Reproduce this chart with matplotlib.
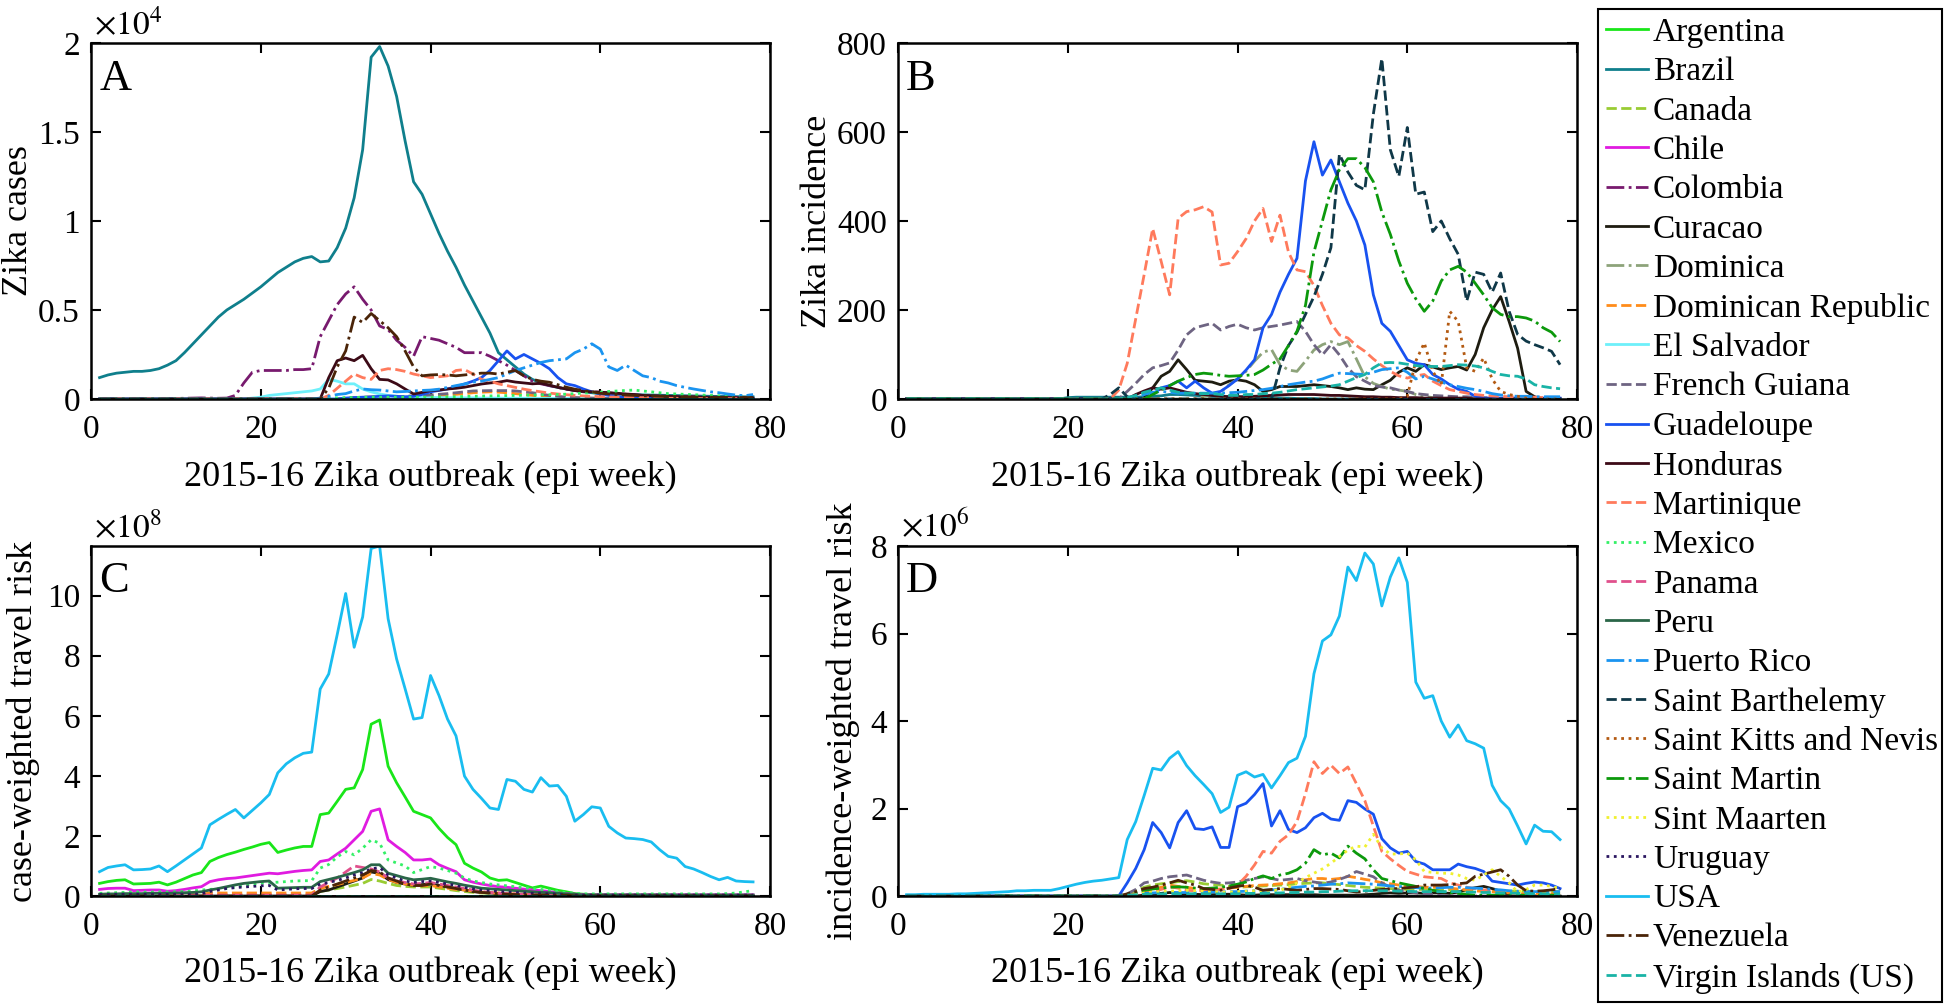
import numpy as np
import matplotlib
matplotlib.use("Agg")
import matplotlib.pyplot as plt
from matplotlib.ticker import StrMethodFormatter

plt.rcParams['font.family'] = ['Liberation Serif', 'DejaVu Serif']
plt.rcParams['mathtext.fontset'] = 'stix'

N_WEEKS = 78
WEEKS = np.arange(1, N_WEEKS + 1)

COUNTRIES = ['Argentina', 'Brazil', 'Canada', 'Chile', 'Colombia', 'Curacao', 'Dominica',
             'Dominican Republic', 'El Salvador', 'French Guiana', 'Guadeloupe', 'Honduras',
             'Martinique', 'Mexico', 'Panama', 'Peru', 'Puerto Rico', 'Saint Barthelemy',
             'Saint Kitts and Nevis', 'Saint Martin', 'Sint Maarten', 'Uruguay', 'USA',
             'Venezuela', 'Virgin Islands (US)']
COLORS = ['#19e619', '#0f7f8c', '#99cc33', '#e01be0', '#781a6e', '#1e1c10', '#8da37a',
          '#ff8c1a', '#6ef0fa', '#6e6482', '#1852f0', '#3c0a16', '#ff7a5c', '#33f066',
          '#e0508c', '#2a6648', '#1a94f0', '#0f3848', '#b35a12', '#0c990c', '#f0f030',
          '#2a1660', '#19bdf0', '#4a2408', '#19b3a6']
STYLES = ['-', '-', '--', '-', '-.', '-', '-.', '--', '-', '--', '-', '-', '--', ':', '--',
          '-', '-.', '--', ':', '-.', ':', ':', '-', '-.', '--']

# each series: (first epi week, weekly values); weeks outside are 0
# --- A: Zika cases ---
A_BRAZIL = (1, [1200, 1350, 1450, 1500, 1550, 1550, 1600, 1700, 1900, 2150,
                2600, 3100, 3600, 4100, 4600, 5000, 5300, 5600, 5950, 6300,
                6700, 7100, 7400, 7700, 7900, 8000, 7700, 7750, 8500, 9600,
                11300, 14000, 19200, 19800, 18700, 17000, 14500, 12200, 11500, 10400,
                9300, 8300, 7400, 6400, 5500, 4600, 3700, 2600, 2200, 1800,
                1400, 1100, 900, 750, 650, 560, 480, 400, 350, 300,
                280, 260, 250, 240, 230, 220, 210, 200, 190, 180,
                170, 160, 150, 140, 140, 130, 120, 120])
A_COLOMBIA = (1, [0, 0, 0, 0, 0, 0, 0, 0, 20, 30,
                  40, 50, 60, 50, 40, 50, 200, 900, 1500, 1600,
                  1600, 1600, 1600, 1650, 1650, 1700, 3500, 4400, 5300, 5900,
                  6300, 5600, 5000, 4100, 3900, 3300, 2900, 2400, 3500, 3400,
                  3300, 3100, 2900, 2600, 2600, 2600, 2400, 2150, 1900, 1600,
                  1300, 1000, 850, 750, 650, 550, 480, 430, 400, 380,
                  340, 300, 260, 230, 200, 180, 160, 150, 140, 130,
                  120, 110, 100, 100, 90, 90, 80, 80])
A_HONDURAS = (28, [1200, 2150, 2300, 2150, 2450, 1700, 1100, 1070, 850, 560,
                   280, 370, 470, 500, 560, 600, 660, 750, 840, 900,
                   940, 1030, 950, 900, 850, 880, 780, 650, 560, 470,
                   420, 400, 380, 350, 320, 280, 250, 200, 180, 160,
                   150, 130, 110, 100, 90, 80, 80, 70, 60, 60, 50])
A_VENEZUELA = (28, [600, 1800, 2700, 4600, 4300, 4800, 4400, 4000, 3500, 2700,
                    1800, 1300, 1350, 1370, 1350, 1300, 1350, 1400, 1450, 1450,
                    1400, 1500, 1600, 1300, 1100, 1000, 940, 800, 660, 550,
                    470, 400, 320, 280, 250, 220, 200, 180, 160, 150,
                    140, 130, 120, 110, 100, 100, 90, 90, 80, 80, 80])
A_MARTINIQUE = (28, [200, 600, 1000, 1400, 1200, 1100, 1600, 1700, 1650, 1550,
                     1400, 1300, 1200, 1250, 1300, 1600, 1650, 1400, 1100, 1000,
                     850, 750, 650, 550, 470, 400, 330, 280, 240, 200,
                     170, 150, 130, 110, 100, 90, 80, 70, 60, 50,
                     40, 40, 30, 30, 20, 20, 20, 20, 20, 20, 20])
A_GUADELOUPE = (30, [50, 80, 100, 120, 150, 170, 150, 120, 150, 250,
                     400, 480, 560, 700, 840, 1000, 1200, 1600, 2150, 2700,
                     2250, 2500, 2250, 2000, 1700, 1200, 850, 750, 560, 400,
                     280, 200, 120, 90, 70, 50, 40, 30, 20, 20,
                     10, 10, 10, 10, 10, 10, 10, 10, 10])
A_PUERTO_RICO = (27, [50, 150, 250, 300, 450, 560, 520, 500, 450, 400,
                      420, 450, 480, 500, 550, 650, 750, 840, 950, 1000,
                      1100, 1200, 1400, 1600, 1750, 1900, 2050, 2150, 2200, 2250,
                      2600, 2800, 3100, 2800, 1800, 1600, 1900, 1600, 1300, 1200,
                      1000, 900, 750, 650, 560, 480, 400, 350, 280, 220, 180, 250])
A_EL_SALVADOR = (19, [50, 100, 200, 250, 300, 350, 400, 450, 560, 1100,
                      1000, 850, 850, 560, 400, 280, 200, 150, 120, 100,
                      90, 80, 80, 70, 70, 60, 60, 50, 50, 50,
                      40, 40, 40, 40, 30, 30, 30, 30, 30, 30,
                      20, 20, 20, 20, 20, 20, 20, 20, 20, 20,
                      20, 20, 20, 20, 20, 20, 20, 20, 20, 20])
A_FRENCH_GUIANA = (30, [50, 60, 70, 80, 90, 100, 120, 150, 180, 200,
                        230, 260, 300, 350, 400, 450, 460, 470, 470, 470,
                        450, 400, 350, 280, 200, 150, 100, 80, 60, 50,
                        40, 30, 30, 20, 20, 20, 10, 10, 10, 10])
A_MEXICO = (28, [50, 60, 70, 80, 90, 100, 100, 100, 100, 100,
                 100, 100, 100, 110, 120, 130, 140, 150, 160, 170,
                 180, 190, 200, 210, 220, 230, 240, 250, 270, 300,
                 330, 350, 380, 420, 450, 480, 500, 450, 400, 350,
                 300, 280, 260, 240, 220, 200, 180, 170, 160, 150, 150])
A_DOMINICAN_REP = (30, [50, 80, 100, 120, 150, 150, 140, 130, 120, 130,
                        150, 180, 220, 260, 300, 350, 380, 400, 380, 350,
                        300, 250, 200, 160, 130, 100, 80, 60, 50, 40,
                        30, 30, 30, 20, 20, 20, 20, 20])

# --- B: Zika incidence ---
B_ST_BARTH = (25, [10, 25, 5, 0, 0, 0, 0, 0, 0, 0,
                   0, 0, 0, 0, 0, 0, 0, 0, 0, 0,
                   70, 120, 150, 190, 230, 280, 340, 550, 510, 480,
                   470, 640, 765, 560, 500, 610, 460, 465, 376, 400,
                   360, 325, 220, 285, 280, 240, 283, 197, 145, 130,
                   122, 115, 107, 77])
B_GUADELOUPE = (30, [10, 25, 30, 40, 25, 40, 25, 13, 17, 30,
                     45, 65, 88, 160, 190, 240, 280, 316, 490, 578,
                     503, 537, 488, 440, 400, 346, 234, 170, 152, 120,
                     88, 80, 77, 55, 45, 32, 22, 17, 6, 2,
                     2, 2, 2, 2, 2, 2, 2, 2, 2])
B_ST_MARTIN = (30, [10, 20, 30, 40, 48, 55, 58, 56, 53, 51,
                    52, 53, 55, 65, 78, 90, 120, 152, 210, 330,
                    400, 470, 515, 540, 540, 520, 488, 420, 370, 310,
                    260, 225, 197, 220, 265, 290, 298, 285, 260, 234,
                    205, 190, 185, 185, 182, 175, 160, 150, 129])
B_MARTINIQUE = (26, [20, 80, 180, 280, 383, 309, 234, 406, 421, 425,
                     432, 420, 301, 305, 331, 360, 400, 428, 354, 413,
                     330, 290, 286, 255, 210, 170, 144, 137, 120, 107,
                     90, 75, 62, 52, 47, 52, 55, 40, 30, 21,
                     17, 13, 10, 8, 7, 6, 5, 5, 4, 4, 3, 3, 3])
B_FRENCH_GUIANA = (27, [17, 35, 55, 70, 75, 81, 110, 144, 160, 165,
                        170, 155, 163, 168, 160, 155, 160, 163, 166, 170,
                        174, 152, 122, 99, 122, 99, 70, 50, 40, 30,
                        27, 25, 20, 17, 12, 10, 8, 7, 6, 5,
                        5, 4, 3, 2])
B_DOMINICA = (36, [5, 10, 15, 32, 45, 62, 85, 105, 111, 77,
                   65, 62, 85, 110, 122, 129, 122, 129, 90, 50,
                   35, 28, 22, 20, 17, 10, 6, 3])
B_CURACAO = (29, [2, 25, 51, 62, 88, 66, 42, 40, 38, 32,
                  40, 43, 40, 32, 17, 21, 28, 28, 28, 30,
                  32, 30, 28, 25, 21, 25, 22, 21, 32, 42,
                  60, 70, 62, 77, 72, 66, 70, 73, 65, 100,
                  160, 200, 230, 174, 114, 17, 5])
B_ST_KITTS = (60, [6, 85, 126, 62, 32, 197, 174, 70, 62, 92,
                   45, 17, 10, 6, 2])
B_VIRGIN = (27, [3, 8, 15, 20, 25, 20, 15, 13, 13, 12,
                 12, 10, 8, 8, 10, 10, 12, 13, 15, 18,
                 21, 23, 25, 27, 29, 32, 40, 48, 55, 70,
                 81, 82, 81, 78, 75, 73, 73, 73, 75, 77,
                 76, 74, 70, 62, 55, 52, 51, 45, 32, 28, 25, 23])
B_PUERTO_RICO = (28, [5, 10, 15, 17, 15, 13, 13, 13, 13, 13,
                      13, 14, 15, 17, 19, 21, 24, 28, 32, 35,
                      38, 40, 45, 52, 58, 57, 56, 55, 60, 66,
                      68, 70, 60, 45, 51, 45, 38, 32, 28, 24,
                      21, 17, 12, 9, 7, 6, 6, 5, 5, 5, 5])
B_HONDURAS = (28, [10, 18, 25, 22, 25, 20, 15, 12, 10, 8,
                   6, 5, 5, 5, 6, 7, 8, 9, 10, 10,
                   10, 10, 9, 8, 8, 7, 6, 5, 5, 4,
                   4, 3, 3, 3, 2, 2, 2, 2, 2, 2])
B_BRAZIL = (20, [3, 4, 4, 4, 4, 4, 4, 4, 4, 5,
                 6, 7, 10, 10, 9, 8, 7, 6, 6, 5,
                 5, 4, 4, 3, 3, 2, 2, 1, 1, 1])

# --- C: case-weighted travel risk (x1e8) ---
C_USA = (1, [0.81, 0.95, 1.00, 1.04, 0.87, 0.88, 0.90, 1.00, 0.81, 1.00,
             1.20, 1.40, 1.60, 2.37, 2.55, 2.72, 2.88, 2.60, 2.85, 3.10,
             3.38, 4.10, 4.40, 4.60, 4.75, 4.79, 6.89, 7.39, 8.70, 10.07,
             8.28, 9.29, 11.57, 11.65, 9.23, 7.89, 6.90, 5.89, 5.94, 7.34,
             6.67, 5.89, 5.33, 3.99, 3.55, 3.25, 2.93, 2.88, 3.88, 3.82,
             3.55, 3.46, 3.94, 3.66, 3.68, 3.32, 2.49, 2.71, 2.97, 2.93,
             2.32, 2.10, 1.93, 1.91, 1.88, 1.80, 1.54, 1.32, 1.26, 0.98,
             0.90, 0.78, 0.65, 0.54, 0.62, 0.50, 0.48, 0.47])
C_ARGENTINA = (1, [0.42, 0.48, 0.52, 0.54, 0.40, 0.41, 0.42, 0.46, 0.37, 0.46,
                   0.58, 0.70, 0.78, 1.15, 1.28, 1.38, 1.46, 1.55, 1.63, 1.72,
                   1.78, 1.45, 1.53, 1.60, 1.65, 1.65, 2.71, 2.76, 3.15, 3.55,
                   3.60, 4.21, 5.72, 5.86, 4.32, 3.77, 3.30, 2.82, 2.71, 2.60,
                   2.25, 1.95, 1.71, 1.09, 0.93, 0.80, 0.60, 0.52, 0.54, 0.45,
                   0.36, 0.27, 0.33, 0.26, 0.19, 0.14, 0.08, 0.06, 0.05, 0.05,
                   0.04, 0.04, 0.04, 0.04, 0.04, 0.04, 0.04, 0.04, 0.03, 0.03,
                   0.03, 0.03, 0.03, 0.03, 0.03, 0.03, 0.03, 0.03])
C_CHILE = (1, [0.22, 0.25, 0.26, 0.26, 0.18, 0.19, 0.20, 0.20, 0.16, 0.18,
               0.22, 0.27, 0.31, 0.48, 0.54, 0.58, 0.60, 0.64, 0.68, 0.72,
               0.76, 0.74, 0.78, 0.82, 0.85, 0.87, 1.15, 1.20, 1.40, 1.59,
               1.87, 2.15, 2.82, 2.90, 1.87, 1.65, 1.45, 1.20, 1.20, 1.23,
               1.04, 0.92, 0.81, 0.54, 0.46, 0.40, 0.35, 0.31, 0.29, 0.26,
               0.23, 0.20, 0.18, 0.15, 0.10, 0.08, 0.06, 0.04, 0.04, 0.04,
               0.04, 0.04, 0.04, 0.04, 0.04, 0.04, 0.04, 0.04, 0.04, 0.04,
               0.04, 0.04, 0.04, 0.04, 0.04, 0.04, 0.04, 0.04])
C_MEXICO = (1, [0.09, 0.10, 0.11, 0.12, 0.14, 0.13, 0.13, 0.14, 0.13, 0.14,
                0.15, 0.17, 0.20, 0.22, 0.24, 0.26, 0.30, 0.35, 0.40, 0.43,
                0.45, 0.46, 0.48, 0.50, 0.51, 0.51, 0.93, 1.05, 1.30, 1.48,
                1.37, 1.59, 1.87, 1.76, 1.20, 1.10, 1.00, 0.78, 0.88, 0.98,
                0.93, 0.85, 0.76, 0.60, 0.50, 0.45, 0.40, 0.37, 0.34, 0.31,
                0.28, 0.25, 0.22, 0.19, 0.15, 0.12, 0.09, 0.07, 0.07, 0.07,
                0.07, 0.07, 0.07, 0.07, 0.07, 0.07, 0.07, 0.07, 0.07, 0.07,
                0.07, 0.07, 0.07, 0.07, 0.08, 0.10, 0.14, 0.18])
C_PERU = (1, [0.06, 0.07, 0.07, 0.08, 0.08, 0.08, 0.09, 0.09, 0.09, 0.10,
              0.11, 0.12, 0.14, 0.20, 0.25, 0.31, 0.37, 0.42, 0.45, 0.48,
              0.50, 0.26, 0.27, 0.28, 0.29, 0.29, 0.48, 0.55, 0.62, 0.70,
              0.78, 0.87, 1.04, 1.04, 0.76, 0.68, 0.60, 0.54, 0.56, 0.59,
              0.53, 0.47, 0.42, 0.36, 0.31, 0.26, 0.24, 0.22, 0.20, 0.18,
              0.16, 0.14, 0.12, 0.11, 0.09, 0.07, 0.06, 0.03, 0.03, 0.03,
              0.03, 0.03, 0.03, 0.03, 0.03, 0.03, 0.03, 0.03, 0.03, 0.03,
              0.03, 0.03, 0.03, 0.03, 0.03, 0.03, 0.03, 0.03])
C_URUGUAY = (1, [0.05, 0.05, 0.05, 0.05, 0.05, 0.05, 0.05, 0.05, 0.05, 0.05,
                 0.05, 0.05, 0.08, 0.15, 0.20, 0.25, 0.28, 0.30, 0.32, 0.34,
                 0.35, 0.20, 0.22, 0.24, 0.25, 0.25, 0.40, 0.45, 0.52, 0.60,
                 0.70, 0.78, 0.90, 0.95, 0.70, 0.60, 0.50, 0.45, 0.48, 0.50,
                 0.45, 0.40, 0.35, 0.28, 0.24, 0.20, 0.17, 0.15, 0.13, 0.12,
                 0.10, 0.09, 0.08, 0.07, 0.06, 0.03, 0.03, 0.03, 0.03, 0.03,
                 0.03, 0.03, 0.03, 0.03, 0.03, 0.03, 0.03, 0.03, 0.03, 0.03,
                 0.03, 0.03, 0.03, 0.03, 0.03, 0.03, 0.03, 0.03])
C_VENEZUELA = (27, [0.20, 0.30, 0.40, 0.50, 0.60, 0.70, 0.85, 0.80, 0.60, 0.50,
                    0.40, 0.35, 0.35, 0.40, 0.35, 0.30, 0.25, 0.20, 0.15, 0.12,
                    0.10, 0.08, 0.06, 0.05, 0.04, 0.03, 0.03, 0.03, 0.03, 0.03])
C_DOMINICAN_REP = (1, [0.05, 0.05, 0.05, 0.05, 0.05, 0.05, 0.05, 0.05, 0.05, 0.05,
                       0.05, 0.05, 0.05, 0.10, 0.10, 0.10, 0.10, 0.10, 0.10, 0.10,
                       0.10, 0.10, 0.10, 0.10, 0.10, 0.10, 0.25, 0.32, 0.38, 0.45,
                       0.52, 0.60, 0.75, 0.70, 0.55, 0.45, 0.40, 0.36, 0.34, 0.35,
                       0.30, 0.26, 0.22, 0.20, 0.16, 0.13, 0.11, 0.10, 0.08, 0.07,
                       0.06, 0.05, 0.05, 0.04, 0.03, 0.03])
C_CANADA = (1, [0.03, 0.03, 0.03, 0.03, 0.03, 0.03, 0.03, 0.03, 0.03, 0.03,
                0.03, 0.03, 0.03, 0.03, 0.03, 0.03, 0.03, 0.03, 0.03, 0.03,
                0.03, 0.03, 0.03, 0.03, 0.03, 0.03, 0.15, 0.20, 0.25, 0.30,
                0.36, 0.42, 0.55, 0.50, 0.42, 0.35, 0.32, 0.30, 0.30, 0.30,
                0.26, 0.22, 0.18, 0.15, 0.12, 0.10, 0.09, 0.08, 0.06, 0.05,
                0.04, 0.03, 0.03, 0.02, 0.02, 0.02])
C_PANAMA = (1, [0.03, 0.03, 0.03, 0.03, 0.03, 0.03, 0.03, 0.03, 0.03, 0.03,
                0.03, 0.03, 0.03, 0.03, 0.03, 0.03, 0.03, 0.03, 0.03, 0.03,
                0.03, 0.03, 0.03, 0.03, 0.03, 0.03, 0.30, 0.45, 0.60, 0.80,
                1.00, 0.95, 0.90, 0.80, 0.60, 0.50, 0.45, 0.40, 0.42, 0.45,
                0.40, 0.35, 0.30, 0.25, 0.20, 0.15, 0.12, 0.10, 0.08, 0.07,
                0.06, 0.05, 0.04, 0.04, 0.03, 0.03])
C_CURACAO = (27, [0.15, 0.20, 0.30, 0.40, 0.50, 0.60, 0.80, 0.75, 0.55, 0.45,
                  0.40, 0.35, 0.38, 0.40, 0.35, 0.30, 0.25, 0.20, 0.15, 0.12,
                  0.10, 0.08, 0.06, 0.05, 0.04, 0.03])

# --- D: incidence-weighted travel risk (x1e6) ---
D_USA = (1, [0.03, 0.03, 0.04, 0.04, 0.04, 0.04, 0.05, 0.05, 0.06, 0.07,
             0.08, 0.09, 0.10, 0.12, 0.12, 0.13, 0.13, 0.13, 0.17, 0.22,
             0.27, 0.31, 0.34, 0.36, 0.39, 0.42, 1.29, 1.70, 2.30, 2.92,
             2.88, 3.15, 3.30, 2.98, 2.75, 2.55, 2.34, 1.91, 2.03, 2.76,
             2.84, 2.72, 2.78, 2.47, 2.75, 3.05, 3.15, 3.65, 5.08, 5.83,
             5.97, 6.40, 7.52, 7.21, 7.84, 7.59, 6.63, 7.29, 7.73, 7.17,
             4.89, 4.52, 4.58, 4.00, 3.63, 3.91, 3.55, 3.48, 3.38, 2.53,
             2.18, 1.99, 1.60, 1.19, 1.62, 1.48, 1.47, 1.29])
D_GUADELOUPE = (27, [0.30, 0.63, 1.06, 1.68, 1.45, 1.10, 1.68, 1.95, 1.54, 1.52,
                     1.58, 1.11, 1.11, 2.04, 2.12, 2.32, 2.57, 1.60, 1.95, 1.52,
                     1.45, 1.56, 1.79, 1.89, 1.76, 1.73, 2.18, 2.14, 1.99, 1.87,
                     1.31, 1.10, 0.98, 1.02, 0.79, 0.73, 0.60, 0.60, 0.60, 0.73,
                     0.67, 0.63, 0.56, 0.34, 0.31, 0.28, 0.25, 0.29, 0.32, 0.30, 0.25, 0.17])
D_MARTINIQUE = (29, [0.05, 0.10, 0.15, 0.21, 0.18, 0.13, 0.12, 0.12, 0.13, 0.15,
                     0.17, 0.25, 0.45, 0.71, 1.02, 0.98, 1.25, 1.40, 1.70, 2.34,
                     3.07, 2.80, 2.99, 2.80, 2.95, 2.57, 2.18, 1.60, 1.02, 0.85,
                     0.70, 0.56, 0.50, 0.44, 0.42, 0.40, 0.30, 0.25, 0.20, 0.17,
                     0.14, 0.11, 0.09, 0.07, 0.05, 0.03, 0.03, 0.03, 0.03, 0.03])
D_ST_MARTIN = (27, [0.03, 0.08, 0.13, 0.16, 0.18, 0.20, 0.21, 0.20, 0.18, 0.17,
                    0.18, 0.20, 0.23, 0.27, 0.32, 0.40, 0.46, 0.40, 0.48, 0.52,
                    0.60, 0.75, 1.06, 0.94, 0.98, 0.87, 1.14, 0.98, 0.85, 0.60,
                    0.40, 0.35, 0.30, 0.26, 0.22, 0.17, 0.13, 0.10, 0.08, 0.06,
                    0.04, 0.02, 0.02, 0.02, 0.02, 0.02, 0.02, 0.02, 0.02, 0.02, 0.02, 0.02])
D_SINT_MAARTEN = (28, [0.04, 0.07, 0.09, 0.10, 0.11, 0.12, 0.13, 0.12, 0.11, 0.10,
                       0.09, 0.09, 0.10, 0.11, 0.12, 0.12, 0.13, 0.13, 0.20, 0.30,
                       0.42, 0.52, 0.62, 0.75, 0.90, 1.05, 1.14, 1.12, 1.41, 1.10,
                       0.96, 0.96, 0.98, 0.83, 0.56, 0.54, 0.52, 0.52, 0.48, 0.40,
                       0.36, 0.48, 0.60, 0.45, 0.30, 0.09, 0.15, 0.25, 0.25, 0.22, 0.17])
D_VENEZUELA = (27, [0.05, 0.10, 0.17, 0.20, 0.25, 0.30, 0.36, 0.30, 0.25, 0.17,
                    0.15, 0.13, 0.18, 0.22, 0.25, 0.20, 0.13, 0.15, 0.17, 0.15,
                    0.13, 0.15, 0.17, 0.17, 0.16, 0.15, 0.12, 0.09, 0.11, 0.13,
                    0.15, 0.16, 0.17, 0.19, 0.21, 0.25, 0.25, 0.25, 0.26, 0.28,
                    0.30, 0.45, 0.50, 0.55, 0.60, 0.45, 0.25, 0.12, 0.11, 0.12, 0.14, 0.17])
D_FRENCH_GUIANA = (27, [0.05, 0.15, 0.30, 0.34, 0.40, 0.44, 0.46, 0.48, 0.42, 0.36,
                        0.32, 0.29, 0.30, 0.32, 0.36, 0.40, 0.44, 0.40, 0.36, 0.38,
                        0.40, 0.35, 0.32, 0.29, 0.32, 0.38, 0.45, 0.56, 0.50, 0.44,
                        0.30, 0.20, 0.13, 0.10, 0.07, 0.05, 0.03, 0.01])
D_DOMINICAN_REP = (27, [0.02, 0.05, 0.10, 0.15, 0.20, 0.25, 0.22, 0.20, 0.17, 0.15,
                        0.15, 0.16, 0.18, 0.20, 0.22, 0.24, 0.25, 0.26, 0.28, 0.30,
                        0.33, 0.37, 0.40, 0.40, 0.38, 0.40, 0.45, 0.42, 0.38, 0.35,
                        0.30, 0.28, 0.25, 0.23, 0.22, 0.20, 0.20, 0.20, 0.18, 0.16,
                        0.14, 0.12, 0.10, 0.10, 0.08, 0.07, 0.06, 0.05, 0.05, 0.05, 0.05, 0.05])
D_CANADA = (27, [0.05, 0.12, 0.20, 0.25, 0.28, 0.30, 0.33, 0.35, 0.32, 0.28,
                 0.26, 0.25, 0.22, 0.20, 0.21, 0.22, 0.23, 0.24, 0.25, 0.26,
                 0.28, 0.29, 0.30, 0.30, 0.28, 0.26, 0.24, 0.22, 0.20, 0.19,
                 0.18, 0.17, 0.16, 0.15, 0.15, 0.15, 0.14, 0.14, 0.14, 0.13,
                 0.13, 0.13, 0.12, 0.12, 0.12, 0.11, 0.11, 0.11, 0.10, 0.10, 0.10, 0.10])
D_PUERTO_RICO = (27, [0.02, 0.05, 0.06, 0.07, 0.08, 0.08, 0.08, 0.08, 0.08, 0.08,
                      0.09, 0.09, 0.10, 0.10, 0.11, 0.12, 0.13, 0.14, 0.15, 0.18,
                      0.20, 0.22, 0.23, 0.25, 0.27, 0.28, 0.30, 0.29, 0.28, 0.27,
                      0.25, 0.23, 0.22, 0.20, 0.19, 0.18, 0.18, 0.19, 0.20, 0.20,
                      0.19, 0.18, 0.17, 0.15, 0.14, 0.12, 0.11, 0.10, 0.10, 0.10, 0.10, 0.10])
D_VIRGIN = (27, [0.02, 0.03, 0.04, 0.05, 0.05, 0.05, 0.05, 0.05, 0.05, 0.05,
                 0.05, 0.05, 0.05, 0.05, 0.06, 0.06, 0.06, 0.07, 0.07, 0.08,
                 0.08, 0.09, 0.09, 0.10, 0.10, 0.11, 0.12, 0.12, 0.12, 0.12,
                 0.12, 0.12, 0.11, 0.11, 0.10, 0.10, 0.10, 0.10, 0.10, 0.10,
                 0.09, 0.09, 0.08, 0.08, 0.07, 0.07, 0.06, 0.06, 0.05, 0.05, 0.05, 0.05])
D_CURACAO = (29, [0.02, 0.05, 0.06, 0.08, 0.06, 0.04, 0.04, 0.03, 0.03, 0.04,
                  0.04, 0.03, 0.02, 0.02, 0.03, 0.03, 0.03, 0.03, 0.03, 0.03,
                  0.03, 0.02, 0.02, 0.02, 0.02, 0.02, 0.03, 0.04, 0.06, 0.07,
                  0.06, 0.07, 0.07, 0.06, 0.07, 0.07, 0.06, 0.09, 0.15, 0.19,
                  0.22, 0.17, 0.11, 0.02])

PANELS = [
    dict(letter='A', ylabel='Zika cases', ylim=2, yticks=[0, 0.5, 1, 1.5, 2], scale=1e4,
         mult=r'$\times10^{4}$', pos=[0.0468, 0.6042, 0.3489, 0.3532], ylab_x=-0.107,
         data={'Brazil': A_BRAZIL, 'Colombia': A_COLOMBIA, 'Honduras': A_HONDURAS,
               'Venezuela': A_VENEZUELA, 'Martinique': A_MARTINIQUE,
               'Guadeloupe': A_GUADELOUPE, 'Puerto Rico': A_PUERTO_RICO,
               'El Salvador': A_EL_SALVADOR, 'French Guiana': A_FRENCH_GUIANA,
               'Mexico': A_MEXICO, 'Dominican Republic': A_DOMINICAN_REP}),
    dict(letter='B', ylabel='Zika incidence', ylim=800, yticks=[0, 200, 400, 600, 800], scale=1,
         mult=None, pos=[0.4615, 0.6042, 0.3489, 0.3532], ylab_x=-0.118,
         data={'Saint Barthelemy': B_ST_BARTH, 'Guadeloupe': B_GUADELOUPE,
               'Saint Martin': B_ST_MARTIN, 'Martinique': B_MARTINIQUE,
               'French Guiana': B_FRENCH_GUIANA, 'Dominica': B_DOMINICA,
               'Curacao': B_CURACAO, 'Saint Kitts and Nevis': B_ST_KITTS,
               'Virgin Islands (US)': B_VIRGIN, 'Puerto Rico': B_PUERTO_RICO,
               'Honduras': B_HONDURAS, 'Brazil': B_BRAZIL}),
    dict(letter='C', ylabel='case-weighted travel risk', ylim=11.65, yticks=[0, 2, 4, 6, 8, 10],
         scale=1, mult=r'$\times10^{8}$', pos=[0.0468, 0.1111, 0.3489, 0.3472], ylab_x=-0.100,
         data={'USA': C_USA, 'Argentina': C_ARGENTINA, 'Chile': C_CHILE, 'Mexico': C_MEXICO,
               'Peru': C_PERU, 'Uruguay': C_URUGUAY, 'Venezuela': C_VENEZUELA,
               'Dominican Republic': C_DOMINICAN_REP, 'Canada': C_CANADA,
               'Panama': C_PANAMA, 'Curacao': C_CURACAO}),
    dict(letter='D', ylabel='incidence-weighted travel risk', ylim=8, yticks=[0, 2, 4, 6, 8],
         scale=1, mult=r'$\times10^{6}$', pos=[0.4615, 0.1111, 0.3489, 0.3472], ylab_x=-0.081,
         data={'USA': D_USA, 'Guadeloupe': D_GUADELOUPE, 'Martinique': D_MARTINIQUE,
               'Saint Martin': D_ST_MARTIN, 'Sint Maarten': D_SINT_MAARTEN,
               'Venezuela': D_VENEZUELA, 'French Guiana': D_FRENCH_GUIANA,
               'Dominican Republic': D_DOMINICAN_REP, 'Canada': D_CANADA,
               'Puerto Rico': D_PUERTO_RICO, 'Virgin Islands (US)': D_VIRGIN,
               'Curacao': D_CURACAO}),
]


def weekly(entry):
    start, vals = entry
    y = np.zeros(N_WEEKS)
    vals = np.asarray(vals, dtype=float)[:N_WEEKS - start + 1]
    y[start - 1:start - 1 + len(vals)] = vals
    return y


fig = plt.figure(figsize=(19.46, 10.08), dpi=100)
handles = []
for p in PANELS:
    ax = fig.add_axes(p['pos'])
    for name, col, ls in zip(COUNTRIES, COLORS, STYLES):
        y = weekly(p['data'].get(name, (1, []))) / p['scale']
        ln, = ax.plot(WEEKS, y, color=col, linestyle=ls, linewidth=2.0, label=name)
        if p['letter'] == 'A':
            handles.append(ln)
    ax.set_xlim(0, 80)
    ax.set_ylim(0, p['ylim'])
    ax.set_xticks([0, 20, 40, 60, 80])
    ax.set_yticks(p['yticks'])
    ax.yaxis.set_major_formatter(StrMethodFormatter('{x:g}'))
    ax.tick_params(direction='in', top=True, right=True, length=7, width=1.5,
                   labelsize=24)
    ax.tick_params(axis='x', pad=11)
    ax.tick_params(axis='y', pad=8)
    for s in ax.spines.values():
        s.set_linewidth(1.8)
    ax.set_xlabel('2015-16 Zika outbreak (epi week)', fontsize=26, va='center')
    ax.xaxis.set_label_coords(0.5, -0.22)
    ax.set_ylabel(p['ylabel'], fontsize=26, va='center')
    ax.yaxis.set_label_coords(p['ylab_x'], 0.5)
    ax.text(0.012, 0.9, p['letter'], transform=ax.transAxes, fontsize=32, va='center')
    if p['mult']:
        ax.text(0.005, 1.005, p['mult'], transform=ax.transAxes, fontsize=24,
                va='bottom', ha='left')

leg = fig.legend(handles, COUNTRIES, loc='upper left',
                 bbox_to_anchor=(0.8212, 0.991, 0.1768, 0), mode='expand',
                 fontsize=24, labelspacing=0.265, handlelength=1.25, handletextpad=0.15,
                 borderpad=0.25, borderaxespad=0, fancybox=False, framealpha=1)
leg.get_frame().set_edgecolor('black')
leg.get_frame().set_linewidth(1.5)

fig.savefig('out.png', dpi=100)
